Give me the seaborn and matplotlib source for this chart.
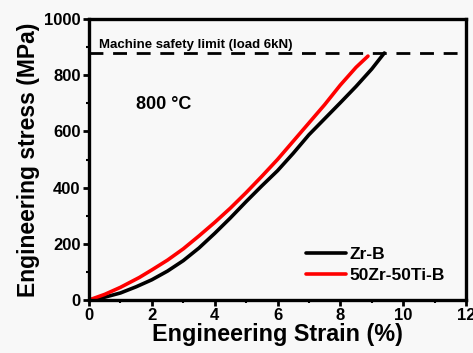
import numpy as np
import pandas as pd
import seaborn as sns
import matplotlib.pyplot as plt
from matplotlib.ticker import MultipleLocator

# Tensile curves at 800 °C
zrb_strain = [0, 0.5, 1, 1.5, 2, 2.5, 3, 3.5, 4, 4.5, 5, 5.5, 6, 6.5, 7, 7.5, 8, 8.5, 9, 9.4]
zrb_stress = [0, 10, 25, 47, 72, 103, 140, 185, 237, 292, 350, 406, 460, 522, 588, 645, 702, 760, 822, 879]
zrti_strain = [0, 0.5, 1, 1.6, 2, 2.5, 3, 3.5, 4, 4.5, 5, 5.5, 6, 6.5, 7, 7.5, 8, 8.5, 8.88]
zrti_stress = [0, 20, 45, 80, 107, 142, 182, 228, 276, 327, 382, 440, 500, 565, 630, 695, 765, 828, 868]
series_names = ["Zr-B", "50Zr-50Ti-B"]
series_colors = ["black", "#ff0000"]
safety_limit = 879

df = pd.concat([
    pd.DataFrame({"strain": zrb_strain, "stress": zrb_stress, "alloy": series_names[0]}),
    pd.DataFrame({"strain": zrti_strain, "stress": zrti_stress, "alloy": series_names[1]}),
])

sns.set_theme(style="ticks")
plt.rcParams["font.family"] = ["Liberation Sans", "DejaVu Sans"]
plt.rcParams["font.weight"] = "bold"
plt.rcParams.update({"text.color": "black", "axes.labelcolor": "black",
                     "xtick.color": "black", "ytick.color": "black"})

fig = plt.figure(figsize=(4.73, 3.53), dpi=100, facecolor="#f8f8f8")
ax = fig.add_axes([89 / 473, 53 / 353, 377 / 473, 281 / 353])
ax.set_facecolor("#f8f8f8")

sns.lineplot(data=df, x="strain", y="stress", hue="alloy", hue_order=series_names,
             palette=series_colors, linewidth=2.6, ax=ax, sort=False, estimator=None)

ax.axhline(safety_limit, color="black", linewidth=2, linestyle=(0, (5, 3.5)))

ax.set_xlim(0, 12)
ax.set_ylim(0, 1000)
ax.xaxis.set_major_locator(MultipleLocator(2))
ax.xaxis.set_minor_locator(MultipleLocator(1))
ax.yaxis.set_major_locator(MultipleLocator(200))
ax.yaxis.set_minor_locator(MultipleLocator(100))
ax.tick_params(which="major", direction="out", length=4, width=2, labelsize=12, pad=2)
ax.tick_params(which="minor", direction="out", length=2.5, width=1.5)
for lab in ax.get_xticklabels() + ax.get_yticklabels():
    lab.set_fontweight("bold")
for s in ax.spines.values():
    s.set_linewidth(2.4)
    s.set_color("black")

ax.set_xlabel("Engineering Strain (%)", fontsize=16.8, fontweight="bold", labelpad=0)
ax.set_ylabel("Engineering stress (MPa)", fontsize=16.5, fontweight="bold", labelpad=3)

ax.text(0.32, 897, "Machine safety limit (load 6kN)", fontsize=9.5, fontweight="bold")
ax.text(1.5, 680, "800 °C", fontsize=13, fontweight="bold")

leg = ax.legend(loc="lower right", bbox_to_anchor=(0.985, 0.005), frameon=False,
                fontsize=12.5, handlelength=2.3, handletextpad=0.2, labelspacing=0.35)
for t in leg.get_texts():
    t.set_fontweight("bold")

fig.savefig("out.png", dpi=100, facecolor=fig.get_facecolor())
